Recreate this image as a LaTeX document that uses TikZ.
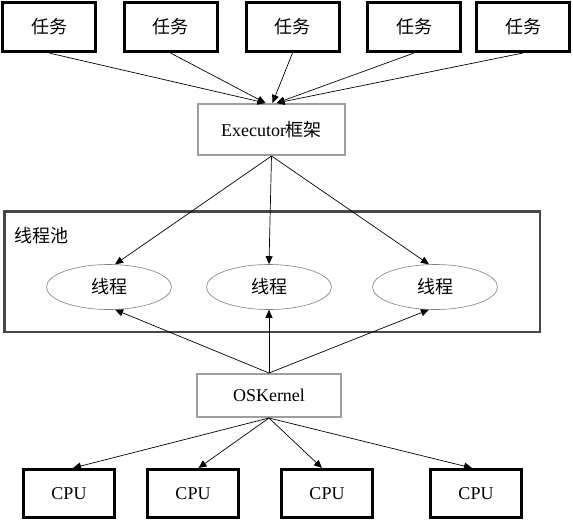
\documentclass[tikz,border=0pt]{standalone}
\usepackage{fontspec}
\setmainfont{Liberation Serif}
\newfontfamily\cjk{Noto Sans CJK SC}
\usetikzlibrary{arrows.meta, shapes.geometric}

\begin{document}
\begin{tikzpicture}[x=1pt, y=-1pt, font=\fontsize{18}{20}\selectfont,
    taskbox/.style={draw, line width=3pt, minimum width=93pt, minimum height=49pt, inner sep=0pt},
    cpubox/.style={draw, line width=3pt, minimum width=91.5pt, minimum height=48pt, inner sep=0pt},
    layerbox/.style={draw=black!38, line width=2pt, minimum height=43pt, inner sep=0pt},
    poolbox/.style={draw=black!72, line width=2.5pt, minimum width=535.5pt, minimum height=120.5pt},
    threadnode/.style={ellipse, draw=black!50, line width=0.6pt, minimum width=125pt, minimum height=45pt, inner sep=0pt},
    link/.style={-{Triangle[length=8pt,width=7pt]}, line width=0.7pt}]
    \useasboundingbox (0,0) rectangle (573,523);
    \foreach \x [count=\i] in {49,170.5,292.5,414,523}
        \node[taskbox] (task-\i) at (\x,27) {\cjk 任务};
    \node[layerbox, minimum width=147pt, minimum height=51pt] (exe) at (271.5,129.5) {Executor{\cjk 框架}};
    \node[poolbox] (pool) at (272,271.5) {};
    \node[anchor=west, inner sep=0pt] (pool-label) at (14,236) {\cjk 线程池};
    \foreach \x [count=\i] in {109,269,435}
        \node[threadnode] (thread-\i) at (\x,287) {\cjk 线程};
    \node[layerbox, minimum width=144pt] (os) at (269,395.5) {OSKernel};
    \foreach \x [count=\i] in {69,193,327,476}
        \node[cpubox] (cpu-\i) at (\x,493.5) {CPU};
    \foreach \i/\s in {1/-6,2/-6,3/1,4/5,5/5}
        \draw[link] (task-\i.south) -- ([xshift=\s pt]exe.north);
    \draw[link] (exe.south) -- (thread-1.75);
    \draw[link] (exe.south) -- (thread-2.north);
    \draw[link] (exe.south) -- (thread-3.105);
    \draw[link] (os.north) -- (thread-1.-75);
    \draw[link] (os.north) -- (thread-2.south);
    \draw[link] (os.north) -- (thread-3.-105);
    \foreach \i/\s in {1/4,2/5.5,3/-5,4/-4}
        \draw[link] (os.south) -- ([xshift=\s pt]cpu-\i.north);
\end{tikzpicture}
\end{document}
